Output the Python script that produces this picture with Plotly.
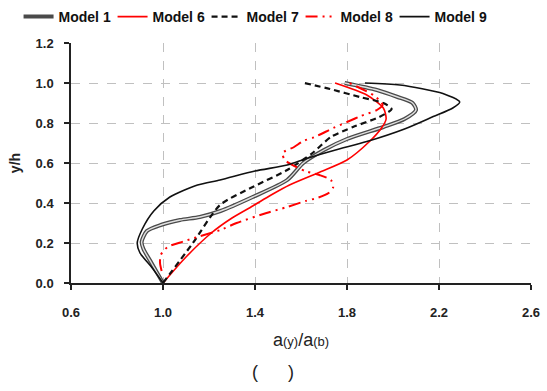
import plotly.graph_objects as go

# Model 1 (double gray line)
m1_x = [1.0, 0.95, 0.915, 0.907, 0.93, 0.99, 1.074, 1.16, 1.25, 1.39, 1.54, 1.61, 1.70, 1.80, 1.958, 2.05, 2.10, 2.085, 2.02, 1.93, 1.79]
m1_y = [0.0, 0.1, 0.17, 0.205, 0.26, 0.29, 0.315, 0.33, 0.36, 0.43, 0.515, 0.6, 0.665, 0.72, 0.78, 0.82, 0.865, 0.9, 0.93, 0.965, 1.0]

# Model 6 (red solid)
m6_x = [1.0, 1.1, 1.21, 1.30, 1.39, 1.47, 1.55, 1.683, 1.80, 1.90, 1.95, 1.97, 1.958, 1.886, 1.748]
m6_y = [0.0, 0.13, 0.25, 0.325, 0.385, 0.44, 0.49, 0.555, 0.615, 0.71, 0.775, 0.82, 0.875, 0.94, 1.0]

# Model 7 (black dashed)
m7_x = [1.0, 1.13, 1.248, 1.39, 1.54, 1.65, 1.73, 1.826, 1.94, 1.994, 1.958, 1.856, 1.726, 1.615]
m7_y = [0.0, 0.2, 0.39, 0.48, 0.565, 0.65, 0.73, 0.78, 0.83, 0.87, 0.9, 0.93, 0.97, 1.0]

# Model 8 (red dash-dot)
m8_x = [0.994, 0.987, 0.99, 1.02, 1.087, 1.15, 1.25, 1.32, 1.45, 1.54, 1.62, 1.67, 1.72, 1.74, 1.73, 1.68, 1.625, 1.58, 1.53, 1.52, 1.57, 1.61, 1.66, 1.74, 1.81, 1.86, 1.93, 1.955, 1.92, 1.81]
m8_y = [0.06, 0.1, 0.14, 0.18, 0.207, 0.23, 0.265, 0.3, 0.35, 0.38, 0.41, 0.425, 0.45, 0.48, 0.515, 0.54, 0.557, 0.58, 0.615, 0.65, 0.68, 0.71, 0.73, 0.775, 0.81, 0.835, 0.865, 0.89, 0.935, 1.0]

# Model 9 (black solid)
m9_x = [1.0, 0.95, 0.90, 0.888, 0.91, 0.96, 1.03, 1.15, 1.248, 1.40, 1.54, 1.625, 1.75, 1.886, 2.05, 2.175, 2.26, 2.29, 2.217, 2.03, 1.878]
m9_y = [0.0, 0.08, 0.15, 0.2, 0.27, 0.36, 0.43, 0.49, 0.515, 0.56, 0.59, 0.623, 0.665, 0.707, 0.77, 0.832, 0.875, 0.905, 0.948, 0.99, 1.0]

x_ticks = [0.6, 1.0, 1.4, 1.8, 2.2, 2.6]
y_ticks = [0.0, 0.2, 0.4, 0.6, 0.8, 1.0, 1.2]

fig = go.Figure()
sm = 0.7
fig.add_trace(go.Scatter(x=m1_x, y=m1_y, mode="lines", name="Model 1",
                         line=dict(color="#4a4a4a", width=4, shape="spline", smoothing=sm)))
fig.add_trace(go.Scatter(x=m1_x, y=m1_y, mode="lines", name="Model 1 inner", showlegend=False,
                         line=dict(color="#e0e0e0", width=1.4, shape="spline", smoothing=sm)))
fig.add_trace(go.Scatter(x=m6_x, y=m6_y, mode="lines", name="Model 6",
                         line=dict(color="#ff0000", width=1.6, shape="spline", smoothing=sm)))
fig.add_trace(go.Scatter(x=m7_x, y=m7_y, mode="lines", name="Model 7",
                         line=dict(color="#111111", width=2.2, dash="6px,4px", shape="spline", smoothing=sm)))
fig.add_trace(go.Scatter(x=m8_x, y=m8_y, mode="lines", name="Model 8",
                         line=dict(color="#ff0000", width=2.0, dash="12px,5px,2px,5px,2px,5px", shape="spline", smoothing=sm)))
fig.add_trace(go.Scatter(x=m9_x, y=m9_y, mode="lines", name="Model 9",
                         line=dict(color="#111111", width=1.6, shape="spline", smoothing=sm)))

fig.update_layout(
    width=547, height=391,
    margin=dict(l=71, r=16, t=43, b=108, autoexpand=False),
    paper_bgcolor="white", plot_bgcolor="white",
    font=dict(family="Liberation Sans, Arial, sans-serif", color="#222222"),
    showlegend=True,
    legend=dict(orientation="h", x=-0.114, y=1.175,
                xanchor="left", yanchor="top", entrywidth=49, entrywidthmode="pixels",
                font=dict(size=14, color="#111111", family="Liberation Sans, Arial, sans-serif", weight="bold"),
                bgcolor="rgba(0,0,0,0)", itemwidth=30, tracegroupgap=0),
)
fig.update_xaxes(
    range=[0.6, 2.6], tickvals=x_ticks, ticktext=[f"{v:.1f}" for v in x_ticks],
    showgrid=True, gridcolor="#c0c0c0", griddash="dash", gridwidth=1,
    showline=True, linecolor="#222222", linewidth=1.5,
    ticks="outside", ticklen=5, tickcolor="#222222", tickwidth=1.5,
    ticklabelstandoff=12,
    tickfont=dict(size=13, color="#222222", weight="bold"),
    zeroline=False,
    title=dict(text="a<span style='font-size:13px'>(y)</span>/a<span style='font-size:13px'>(b)</span>",
               font=dict(size=18, color="#222222"), standoff=14),
)
fig.update_yaxes(
    range=[0, 1.2], tickvals=y_ticks, ticktext=[f"{v:.1f}" for v in y_ticks],
    showgrid=True, gridcolor="#c0c0c0", griddash="dash", gridwidth=1,
    showline=True, linecolor="#222222", linewidth=1.5,
    ticks="outside", ticklen=5, tickcolor="#222222", tickwidth=1.5,
    ticklabelstandoff=8,
    tickfont=dict(size=13, color="#222222", weight="bold"),
    zeroline=False,
    title=dict(text="y/h", font=dict(size=14, color="#222222", weight="bold"), standoff=12),
)
fig.add_annotation(text="(      )", xref="paper", yref="paper", x=0.44, y=-0.37,
                   showarrow=False, font=dict(size=18, color="#222222"), xanchor="center", yanchor="middle")

fig.write_html("out.html")
